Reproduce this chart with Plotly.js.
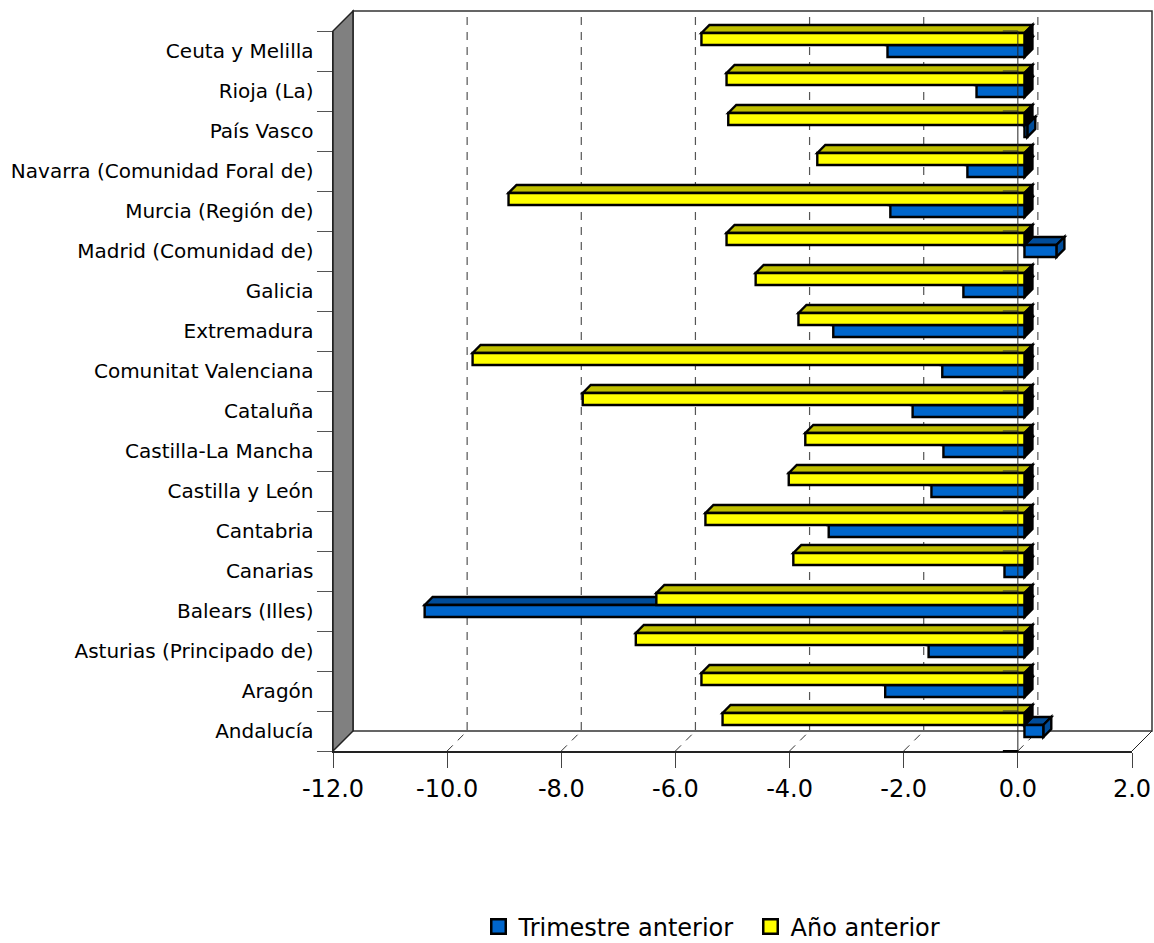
<!DOCTYPE html>
<html>
<head>
<meta charset="utf-8">
<script src="https://cdn.plot.ly/plotly-3.0.1.min.js"></script>
<style>html,body{margin:0;padding:0;background:#fff}</style>
</head>
<body>
<div id="chart" style="width:1154px;height:943px"></div>
<script>
// Data, bottom to top, as on the chart's category axis
const categories = ["Andalucía","Aragón","Asturias (Principado de)","Balears (Illes)","Canarias","Cantabria","Castilla y León","Castilla-La Mancha","Cataluña","Comunitat Valenciana","Extremadura","Galicia","Madrid (Comunidad de)","Murcia (Región de)","Navarra (Comunidad Foral de)","País Vasco","Rioja (La)","Ceuta y Melilla"];
const trimestreAnterior = [0.33,-2.44,-1.68,-10.51,-0.35,-3.43,-1.63,-1.42,-1.96,-1.44,-3.35,-1.07,0.56,-2.35,-1.00,0.05,-0.84,-2.40];
const anoAnterior = [-5.29,-5.66,-6.81,-6.45,-4.05,-5.59,-4.13,-3.84,-7.74,-9.67,-3.96,-4.71,-5.22,-9.04,-3.63,-5.19,-5.22,-5.66];
const xTicks = [-12,-10,-8,-6,-4,-2,0,2];
const xTickText = ["-12.0","-10.0","-8.0","-6.0","-4.0","-2.0","0.0","2.0"];
const seriesNames = ["Trimestre anterior","Año anterior"];

// Layout constants
const W=1154,H=943, L=333,R=1132,T=31,B=751;
const xMin=-12,xMax=2, plotW=R-L, plotH=B-T;
const FONT='"DejaVu Sans", Verdana, sans-serif';
const WALL=20, DEPTH=8;            // oblique depth in pixels
const unit=plotW/(xMax-xMin);
const BASE=6.6/unit;               // bars stand about 6px into the box
const BAND_SHIFT=6/40, BAR_W=0.30;
const BORDER=2.4;

const px=v=>(v-xMin)/(xMax-xMin);
const py=b=>(b+0.5)/categories.length;
const dx=p=>p/plotW, dy=p=>p/plotH;

const shapes=[];
function poly(pts,fill,line,width,layer){
  shapes.push({type:'path',xref:'paper',yref:'paper',layer:layer||'below',
    path:'M'+pts.map(p=>p[0]+','+p[1]).join('L')+'Z',fillcolor:fill,
    line:{color:line,width:width}});
}
function seg(x0,y0,x1,y1,color,width,dash,layer){
  shapes.push({type:'line',xref:'paper',yref:'paper',layer:layer||'below',x0,y0,x1,y1,
    line:{color,width,dash:dash||'solid'}});
}

// Box: back wall, left wall, floor edges
const wx=dx(WALL), wy=dy(WALL);
poly([[wx,wy],[1+wx,wy],[1+wx,1+wy],[wx,1+wy]],'#ffffff','#333333',1.5);
poly([[0,0],[wx,wy],[wx,1+wy],[0,1]],'#808080','#222222',1.5);
seg(1,0,1+wx,wy,'#222222',1);

// Wall gridlines and floor dashes
xTicks.forEach(t=>{
  if(t===xMin||t===xMax) { return; }
  seg(px(t)+wx,1+wy-dy(6),px(t)+wx,wy,'#555555',1.2,'8px,7px');
  seg(px(t),0,px(t)+wx,wy,'#333333',1,'8px,7px');
});

// Oblique faces of the bars
function faces(values,topBand,topColor,sideColor){
  values.forEach((v,i)=>{
    const yT=py(i+topBand), xL=px(BASE+Math.min(v,0)), xR=px(BASE+Math.max(v,0));
    const a=dx(DEPTH), b=dy(DEPTH), h=BAR_W/categories.length;
    poly([[xL,yT],[xL+a,yT+b],[xR+a,yT+b],[xR,yT]],topColor,'#000000',BORDER);
    poly([[xR,yT],[xR+a,yT+b],[xR+a,yT+b-h],[xR,yT-h]],v>0?sideColor:'#000000','#000000',BORDER);
  });
}
faces(trimestreAnterior,BAND_SHIFT,'#004C99','#004C99');
faces(anoAnterior,BAND_SHIFT+BAR_W,'#BFBF00','#000000');

// The vertical axis at zero crosses over the bars, with its ticks
seg(px(0),0,px(0),1,'#222222',1,'solid','above');
categories.concat(['']).forEach((c,i)=>{
  seg(px(0)-dx(15),i/categories.length,px(0),i/categories.length,i===0?'#000000':'#333333',i===0?2:1,'solid','above');
});

const barLine={color:'#000000',width:BORDER};
const traceBlue={type:'bar',orientation:'h',name:seriesNames[0],y:categories,x:trimestreAnterior,
  base:BASE,offset:BAND_SHIFT-BAR_W,width:BAR_W,showlegend:false,legendgroup:'a',
  marker:{color:'#0066CC',line:barLine}};
const traceYellow={type:'bar',orientation:'h',name:seriesNames[1],y:categories,x:anoAnterior,
  base:BASE,offset:BAND_SHIFT,width:BAR_W,showlegend:false,legendgroup:'b',
  marker:{color:'#FFFF00',line:barLine}};
// Legend keys: the chart's keys are larger than Plotly's fixed bar swatch
const keyBlue={type:'scatter',mode:'markers',name:seriesNames[0],x:[null],y:[null],legendgroup:'a',
  marker:{symbol:'square',size:14.5,color:'#0066CC',line:{color:'#000000',width:2.5}}};
const keyYellow={type:'scatter',mode:'markers',name:seriesNames[1],x:[null],y:[null],legendgroup:'b',
  marker:{symbol:'square',size:14.5,color:'#FFFF00',line:{color:'#000000',width:2.5}}};

const layout={
  width:W,height:H,autosize:false,
  margin:{l:L,r:W-R,t:T,b:H-B,pad:0},
  paper_bgcolor:'#ffffff',plot_bgcolor:'rgba(0,0,0,0)',
  barmode:'overlay',
  font:{family:FONT,color:'#000000'},
  xaxis:{type:'linear',range:[xMin,xMax],tickmode:'array',tickvals:xTicks,ticktext:xTickText,
    showgrid:false,zeroline:false,showline:true,linecolor:'#222222',linewidth:1.5,
    ticks:'outside',ticklen:15,tickwidth:1,tickcolor:'#444444',
    tickfont:{family:FONT,size:24,color:'#000000'},ticklabelstandoff:1},
  yaxis:{type:'category',categoryorder:'array',categoryarray:categories,range:[-0.5,categories.length-0.5],
    showgrid:false,zeroline:false,showline:true,linecolor:'#222222',linewidth:1.5,
    ticks:'outside',ticklen:15,tickwidth:1,tickcolor:'#555555',tickson:'boundaries',
    tickfont:{family:FONT,size:20,color:'#000000'},ticklabelstandoff:14},
  showlegend:true,
  legend:{orientation:'h',xref:'container',yref:'container',x:486.5/W,xanchor:'left',y:(H-927)/H,yanchor:'middle',
    font:{family:FONT,size:24,color:'#000000'},traceorder:'normal',bgcolor:'rgba(0,0,0,0)',itemwidth:30,
    indentation:-8,entrywidth:235,entrywidthmode:'pixels'},
  shapes:shapes
};
Plotly.newPlot('chart',[traceBlue,traceYellow,keyBlue,keyYellow],layout,{displayModeBar:false,staticPlot:true});
</script>
</body>
</html>
